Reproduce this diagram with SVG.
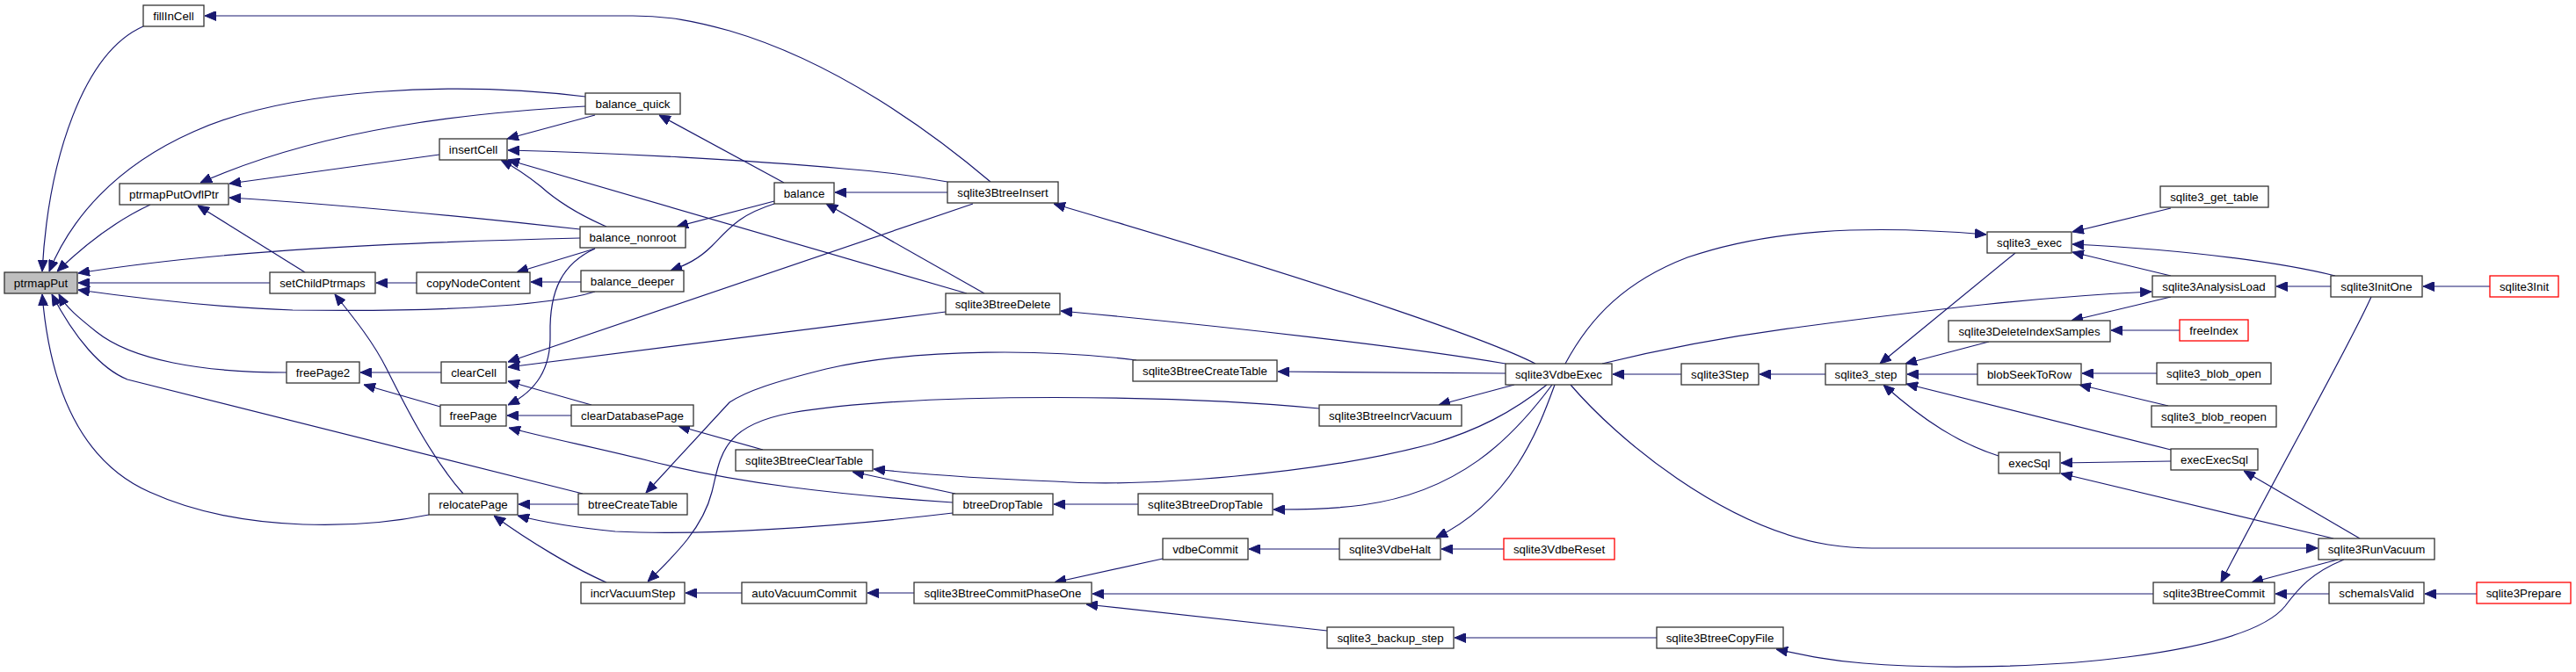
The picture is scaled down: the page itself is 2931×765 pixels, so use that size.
<svg xmlns="http://www.w3.org/2000/svg" width="2931" height="765" viewBox="0 0 2931 765">
<style>
.n rect{fill:#ffffff;stroke:#333333;stroke-width:1.3}
.n.root rect{fill:#bfbfbf}
.n.red rect{stroke:#ff0000}
.n text{font-family:"Liberation Sans",Arial,Helvetica,sans-serif;font-size:13.3px;text-anchor:middle;fill:#000}
#edges path{fill:none;stroke:#191970;stroke-width:1.2;marker-end:url(#arr)}
</style>
<defs>
<marker id="arr" markerUnits="userSpaceOnUse" markerWidth="13" markerHeight="11" refX="13" refY="5.5" orient="auto">
<path d="M0,0 L13,5.5 L0,11 z" fill="#191970" stroke="#191970" stroke-width="1"/>
</marker>
</defs>
<rect width="2931" height="765" fill="#ffffff"/>
<g id="edges">
<path d="M163,30 C95,60 55,180 48,309"/>
<path d="M666,110 C520,92 330,100 220,150 C130,190 80,250 56,309"/>
<path d="M171,233 C130,252 95,280 65,309"/>
<path d="M666,121 C540,128 370,145 228,208"/>
<path d="M500,176 L261,209"/>
<path d="M660,261 C560,250 420,235 261,225"/>
<path d="M660,271 C450,276 250,285 89,311"/>
<path d="M307,322 L89,322"/>
<path d="M347,310 L225,234"/>
<path d="M677,332 C620,350 480,355 333,353 C250,350 160,340 89,330"/>
<path d="M474,322 L428,322"/>
<path d="M527,562 C490,520 460,460 440,420 C425,390 405,365 381,335"/>
<path d="M488,586 C420,600 280,610 170,560 C80,520 55,420 48,335"/>
<path d="M663,562 L145,432 C115,420 85,385 59,335"/>
<path d="M326,424 C230,424 150,410 110,378 C90,362 75,350 67,335"/>
<path d="M502,424 L410,424"/>
<path d="M501,463 L414,438"/>
<path d="M1107,232 L578,412"/>
<path d="M1076,355 L578,418"/>
<path d="M673,461 L578,434"/>
<path d="M677,283 C640,300 625,330 626,380 C627,420 610,445 578,461"/>
<path d="M650,473 L577,473"/>
<path d="M1084,572 C950,563 840,550 740,525 C680,510 620,498 579,487"/>
<path d="M658,574 L590,574"/>
<path d="M1084,584 C950,600 800,610 700,605 C650,600 620,595 589,587"/>
<path d="M690,663 C655,648 600,615 562,587"/>
<path d="M844,675 L780,675"/>
<path d="M1501,465 C1350,450 1050,445 900,470 C820,485 820,520 810,560 C800,600 770,630 737,662"/>
<path d="M1293,410 C1200,398 1050,395 940,420 C880,435 850,445 830,458 L735,561"/>
<path d="M868,512 L772,485"/>
<path d="M1087,562 L970,537"/>
<path d="M1760,438 C1720,470 1680,490 1630,505 C1500,540 1300,555 1200,548 C1120,545 1050,540 994,534"/>
<path d="M1295,574 L1199,574"/>
<path d="M1766,438 C1720,500 1660,560 1550,575 C1510,580 1480,580 1449,580"/>
<path d="M1713,425 L1454,423"/>
<path d="M1723,438 L1637,461"/>
<path d="M1769,438 C1750,490 1720,570 1634,612"/>
<path d="M1711,625 L1640,625"/>
<path d="M1524,625 L1421,625"/>
<path d="M1323,636 L1200,663"/>
<path d="M1040,675 L987,675"/>
<path d="M2450,676 L1243,676"/>
<path d="M1510,718 L1236,688"/>
<path d="M1885,726 L1655,726"/>
<path d="M2667,637 C2630,652 2615,670 2600,690 C2580,715 2520,735 2420,748 C2330,760 2200,762 2120,755 C2080,752 2050,745 2021,739"/>
<path d="M1913,426 L1835,426"/>
<path d="M2077,426 L2002,426"/>
<path d="M1781,414 C1810,360 1850,320 1920,293 C2010,262 2120,255 2260,267"/>
<path d="M1823,414 C1880,400 1950,385 2050,372 C2200,352 2320,338 2448,332"/>
<path d="M1787,438 C1840,500 1960,600 2080,620 C2100,623 2110,624 2130,624 L2637,624"/>
<path d="M2293,288 L2139,414"/>
<path d="M2263,389 L2168,414"/>
<path d="M2250,426 L2170,426"/>
<path d="M2470,512 L2169,437"/>
<path d="M2274,519 C2230,505 2190,480 2143,438"/>
<path d="M2454,425 L2369,425"/>
<path d="M2467,462 L2366,438"/>
<path d="M2470,525 L2345,527"/>
<path d="M2655,613 L2345,539"/>
<path d="M2685,613 L2553,536"/>
<path d="M2470,237 L2358,264"/>
<path d="M2657,314 C2600,300 2500,285 2358,278"/>
<path d="M2470,314 L2358,287"/>
<path d="M2470,338 L2357,365"/>
<path d="M2480,376 L2402,376"/>
<path d="M2652,326 L2590,326"/>
<path d="M2833,326 L2757,326"/>
<path d="M2698,338 C2670,400 2590,540 2527,663"/>
<path d="M2660,637 L2562,663"/>
<path d="M2650,676 L2589,676"/>
<path d="M2818,676 L2759,676"/>
<path d="M1078,219 L950,219"/>
<path d="M1120,334 L940,232"/>
<path d="M892,208 L750,131"/>
<path d="M881,229 L770,258"/>
<path d="M881,232 C840,245 830,260 810,280 C795,295 780,302 763,308"/>
<path d="M677,131 L577,158"/>
<path d="M690,258 C660,245 635,230 615,212 C600,200 585,190 570,182"/>
<path d="M1078,207 C1040,200 1000,195 960,192 C850,182 700,174 578,171"/>
<path d="M1100,334 L578,182"/>
<path d="M1127,207 C1060,150 950,70 830,35 C790,24 760,18 720,18 L233,18"/>
<path d="M677,283 L588,310"/>
<path d="M661,321 L604,321"/>
<path d="M1747,414 C1700,390 1550,335 1199,232"/>
<path d="M1713,414 C1600,395 1400,372 1207,354"/>
</g>
<g id="n_ptrmapPut" class="n root"><rect x="5" y="310" width="83" height="24"/><text x="46.5" y="327">ptrmapPut</text></g>
<g id="n_fillInCell" class="n"><rect x="163" y="6" width="69" height="24"/><text x="197.5" y="23">fillInCell</text></g>
<g id="n_ptrmapPutOvflPtr" class="n"><rect x="136" y="209" width="124" height="24"/><text x="198" y="226">ptrmapPutOvflPtr</text></g>
<g id="n_setChildPtrmaps" class="n"><rect x="307" y="310" width="120" height="24"/><text x="367" y="327">setChildPtrmaps</text></g>
<g id="n_freePage2" class="n"><rect x="326" y="412" width="83" height="24"/><text x="367.5" y="429">freePage2</text></g>
<g id="n_relocatePage" class="n"><rect x="488" y="562" width="101" height="24"/><text x="538.5" y="579">relocatePage</text></g>
<g id="n_insertCell" class="n"><rect x="500" y="158" width="77" height="24"/><text x="538.5" y="175">insertCell</text></g>
<g id="n_balance_quick" class="n"><rect x="666" y="106" width="108" height="24"/><text x="720" y="123">balance_quick</text></g>
<g id="n_balance" class="n"><rect x="881" y="208" width="68" height="24"/><text x="915" y="225">balance</text></g>
<g id="n_balance_nonroot" class="n"><rect x="660" y="258" width="120" height="24"/><text x="720" y="275">balance_nonroot</text></g>
<g id="n_copyNodeContent" class="n"><rect x="474" y="310" width="129" height="24"/><text x="538.5" y="327">copyNodeContent</text></g>
<g id="n_balance_deeper" class="n"><rect x="661" y="308" width="117" height="24"/><text x="719.5" y="325">balance_deeper</text></g>
<g id="n_clearCell" class="n"><rect x="502" y="412" width="74" height="24"/><text x="539" y="429">clearCell</text></g>
<g id="n_freePage" class="n"><rect x="501" y="461" width="75" height="24"/><text x="538.5" y="478">freePage</text></g>
<g id="n_clearDatabasePage" class="n"><rect x="650" y="461" width="139" height="24"/><text x="719.5" y="478">clearDatabasePage</text></g>
<g id="n_btreeCreateTable" class="n"><rect x="658" y="562" width="124" height="24"/><text x="720" y="579">btreeCreateTable</text></g>
<g id="n_incrVacuumStep" class="n"><rect x="661" y="663" width="118" height="24"/><text x="720" y="680">incrVacuumStep</text></g>
<g id="n_sqlite3BtreeClearTable" class="n"><rect x="837" y="512" width="156" height="24"/><text x="915" y="529">sqlite3BtreeClearTable</text></g>
<g id="n_autoVacuumCommit" class="n"><rect x="844" y="663" width="142" height="24"/><text x="915" y="680">autoVacuumCommit</text></g>
<g id="n_sqlite3BtreeInsert" class="n"><rect x="1078" y="207" width="126" height="24"/><text x="1141" y="224">sqlite3BtreeInsert</text></g>
<g id="n_sqlite3BtreeDelete" class="n"><rect x="1076" y="334" width="130" height="24"/><text x="1141" y="351">sqlite3BtreeDelete</text></g>
<g id="n_btreeDropTable" class="n"><rect x="1084" y="562" width="114" height="24"/><text x="1141" y="579">btreeDropTable</text></g>
<g id="n_sqlite3BtreeCommitPhaseOne" class="n"><rect x="1040" y="663" width="202" height="24"/><text x="1141" y="680">sqlite3BtreeCommitPhaseOne</text></g>
<g id="n_sqlite3BtreeCreateTable" class="n"><rect x="1289" y="410" width="164" height="24"/><text x="1371" y="427">sqlite3BtreeCreateTable</text></g>
<g id="n_sqlite3BtreeDropTable" class="n"><rect x="1295" y="562" width="153" height="24"/><text x="1371.5" y="579">sqlite3BtreeDropTable</text></g>
<g id="n_vdbeCommit" class="n"><rect x="1323" y="613" width="97" height="24"/><text x="1371.5" y="630">vdbeCommit</text></g>
<g id="n_sqlite3BtreeIncrVacuum" class="n"><rect x="1501" y="461" width="162" height="24"/><text x="1582" y="478">sqlite3BtreeIncrVacuum</text></g>
<g id="n_sqlite3VdbeHalt" class="n"><rect x="1524" y="613" width="115" height="24"/><text x="1581.5" y="630">sqlite3VdbeHalt</text></g>
<g id="n_sqlite3_backup_step" class="n"><rect x="1510" y="714" width="144" height="24"/><text x="1582" y="731">sqlite3_backup_step</text></g>
<g id="n_sqlite3VdbeExec" class="n"><rect x="1713" y="414" width="121" height="24"/><text x="1773.5" y="431">sqlite3VdbeExec</text></g>
<g id="n_sqlite3VdbeReset" class="n red"><rect x="1711" y="613" width="126" height="24"/><text x="1774" y="630">sqlite3VdbeReset</text></g>
<g id="n_sqlite3Step" class="n"><rect x="1913" y="414" width="88" height="24"/><text x="1957" y="431">sqlite3Step</text></g>
<g id="n_sqlite3BtreeCopyFile" class="n"><rect x="1885" y="714" width="144" height="24"/><text x="1957" y="731">sqlite3BtreeCopyFile</text></g>
<g id="n_sqlite3_step" class="n"><rect x="2077" y="414" width="92" height="24"/><text x="2123" y="431">sqlite3_step</text></g>
<g id="n_sqlite3_exec" class="n"><rect x="2261" y="264" width="96" height="24"/><text x="2309" y="281">sqlite3_exec</text></g>
<g id="n_sqlite3DeleteIndexSamples" class="n"><rect x="2217" y="365" width="184" height="24"/><text x="2309" y="382">sqlite3DeleteIndexSamples</text></g>
<g id="n_blobSeekToRow" class="n"><rect x="2250" y="414" width="118" height="24"/><text x="2309" y="431">blobSeekToRow</text></g>
<g id="n_execSql" class="n"><rect x="2274" y="515" width="70" height="24"/><text x="2309" y="532">execSql</text></g>
<g id="n_sqlite3_get_table" class="n"><rect x="2458" y="212" width="123" height="24"/><text x="2519.5" y="229">sqlite3_get_table</text></g>
<g id="n_sqlite3AnalysisLoad" class="n"><rect x="2449" y="314" width="140" height="24"/><text x="2519" y="331">sqlite3AnalysisLoad</text></g>
<g id="n_freeIndex" class="n red"><rect x="2480" y="364" width="78" height="24"/><text x="2519" y="381">freeIndex</text></g>
<g id="n_sqlite3_blob_open" class="n"><rect x="2454" y="413" width="130" height="24"/><text x="2519" y="430">sqlite3_blob_open</text></g>
<g id="n_sqlite3_blob_reopen" class="n"><rect x="2448" y="462" width="142" height="24"/><text x="2519" y="479">sqlite3_blob_reopen</text></g>
<g id="n_execExecSql" class="n"><rect x="2470" y="511" width="99" height="24"/><text x="2519.5" y="528">execExecSql</text></g>
<g id="n_sqlite3BtreeCommit" class="n"><rect x="2450" y="663" width="138" height="24"/><text x="2519" y="680">sqlite3BtreeCommit</text></g>
<g id="n_sqlite3InitOne" class="n"><rect x="2652" y="314" width="104" height="24"/><text x="2704" y="331">sqlite3InitOne</text></g>
<g id="n_sqlite3RunVacuum" class="n"><rect x="2638" y="613" width="132" height="24"/><text x="2704" y="630">sqlite3RunVacuum</text></g>
<g id="n_schemaIsValid" class="n"><rect x="2650" y="663" width="108" height="24"/><text x="2704" y="680">schemaIsValid</text></g>
<g id="n_sqlite3Init" class="n red"><rect x="2833" y="314" width="78" height="24"/><text x="2872" y="331">sqlite3Init</text></g>
<g id="n_sqlite3Prepare" class="n red"><rect x="2818" y="663" width="107" height="24"/><text x="2871.5" y="680">sqlite3Prepare</text></g>
</svg>
